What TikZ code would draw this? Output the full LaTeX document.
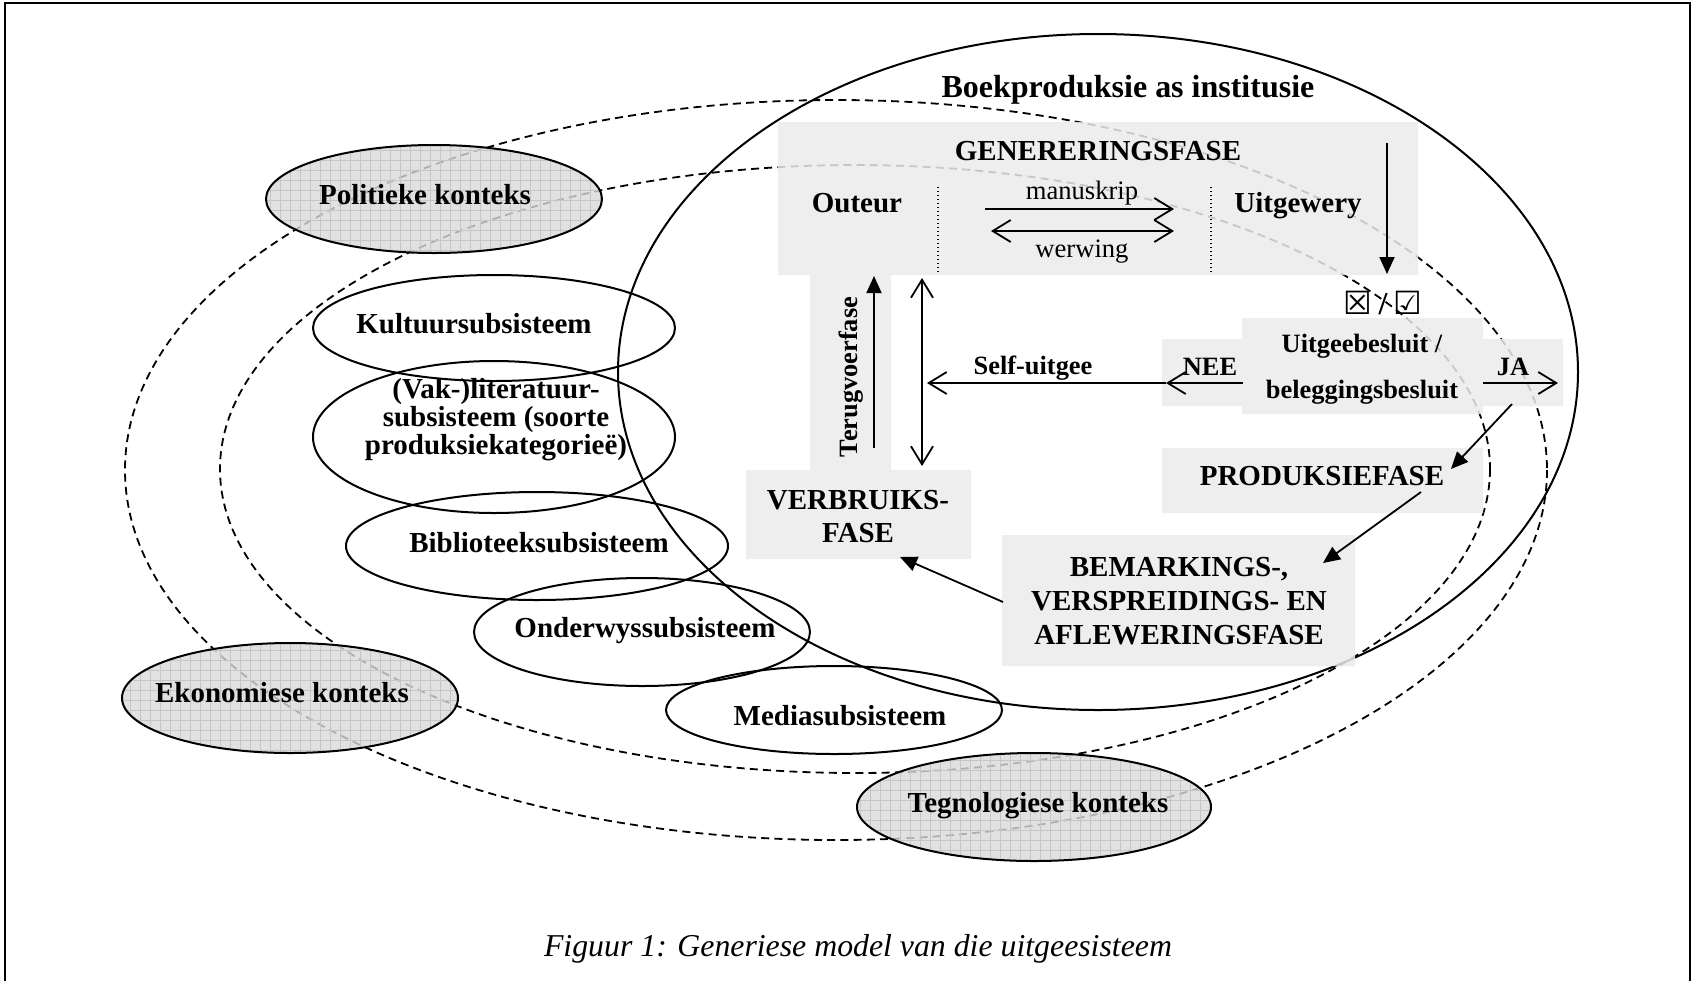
\documentclass[tikz,border=0pt]{standalone}
\usepackage{fontspec}
\setmainfont{Liberation Serif}
\newfontfamily\symfont{DejaVu Sans}
\usetikzlibrary{arrows.meta}
\definecolor{boxgrey}{HTML}{EBEBEB}
\definecolor{ctxgrey}{HTML}{DADADA}
\definecolor{gridgrey}{HTML}{C6C6C6}
\begin{document}
\begin{tikzpicture}[x=0.5pt,y=-0.5pt,
  boldbig/.style={font=\bfseries\fontsize{16pt}{18pt}\selectfont, inner sep=0pt},
  boldmid/.style={font=\bfseries\fontsize{14.5pt}{17pt}\selectfont, inner sep=0pt},
  boldsm/.style={font=\bfseries\fontsize{13.2pt}{15pt}\selectfont, inner sep=0pt},
  regsm/.style={font=\fontsize{13.3pt}{15pt}\selectfont, inner sep=0pt},
  dashedell/.style={draw, line width=0.9pt, dash pattern=on 4pt off 2.6pt},
  solidell/.style={draw, line width=1pt},
  openarr/.style={line width=0.9pt, -{Straight Barb[length=9pt,width=11pt]}},
  openarrs/.style={line width=0.9pt, {Straight Barb[length=9pt,width=11pt]}-{Straight Barb[length=9pt,width=11pt]}},
  fillarr/.style={line width=0.9pt, -{Triangle[length=8.5pt,width=7.5pt]}},
  dotline/.style={line width=0.7pt, dash pattern=on 0.7pt off 1.3pt},
]
\useasboundingbox (0,0) rectangle (1693,981);
% frame
\draw[line width=1pt] (5,981) -- (5,3) -- (1690,3) -- (1690,981);

% dashed context ellipses
\draw[dashedell] (836,470) ellipse [x radius=711, y radius=370];
\draw[dashedell] (855,469) ellipse [x radius=635, y radius=304];

% institution ellipse
\draw[solidell] (1098,372) ellipse [x radius=480, y radius=338];

% grey phase boxes
\fill[boxgrey, fill opacity=0.85]
  (778,122) rectangle (1418,275)
  (810,275) rectangle (891,470)
  (746,470) rectangle (971,559)
  (1162,339) rectangle (1242,406)
  (1242,318) rectangle (1483,414)
  (1483,339) rectangle (1563,406)
  (1162,448) rectangle (1483,513)
  (1002,535) rectangle (1355,666);

% context ellipses (grey, gridded)
\foreach \cx/\cy/\rx/\ry in {434/199/168/54, 290/698/168/55, 1034/807/177/54} {
  \begin{scope}
    \clip (\cx,\cy) ellipse [x radius=\rx, y radius=\ry];
    \fill[ctxgrey, fill opacity=0.8] (\cx-\rx,\cy+\ry) rectangle (\cx+\rx,\cy-\ry);
    \draw[gridgrey, line width=0.3pt] (\cx-\rx,\cy+\ry) grid[step=5pt] (\cx+\rx,\cy-\ry);
  \end{scope}
  \draw[solidell] (\cx,\cy) ellipse [x radius=\rx, y radius=\ry];
}

% subsystem ellipses
\draw[solidell] (494,328) ellipse [x radius=181, y radius=53];
\draw[solidell] (494,437) ellipse [x radius=181, y radius=76];
\draw[solidell] (537,546) ellipse [x radius=191, y radius=54];
\draw[solidell] (642,632) ellipse [x radius=168, y radius=54];
\draw[solidell] (834,710) ellipse [x radius=168, y radius=44];

% dotted separators
\draw[dotline] (938,187) -- (938,274);
\draw[dotline] (1211,187) -- (1211,274);

% texts
\node[boldbig, anchor=base] (boek) at (1128,97) {Boekproduksie as institusie};
\node[boldmid, anchor=base] (gen) at (1098,160) {GENERERINGSFASE};
\node[boldmid, anchor=base] (outeur) at (857,212) {Outeur};
\node[boldmid, anchor=base] (uitg) at (1298,212) {Uitgewery};
\node[regsm, anchor=base] (manu) at (1082,199) {manuskrip};
\node[regsm, anchor=base] (werw) at (1082,257) {werwing};
\node[boldsm, anchor=base, rotate=90] (terug) at (857,377) {Terugvoerfase};
\node[boldsm, anchor=base] (self) at (1033,374) {Self-uitgee};
\node[boldsm, anchor=base] (nee) at (1210,375) {NEE};
\node[boldsm, anchor=base] (besl1) at (1362,352) {Uitgeebesluit /};
\node[boldsm, anchor=base] (besl2) at (1362,398) {beleggingsbesluit};
\node[boldsm, anchor=base] (ja) at (1513,375) {JA};
\node[font=\fontsize{16pt}{16pt}\selectfont, inner sep=0pt] (check) at (1383,303) {{\symfont ☒}\kern3pt{\bfseries /}\kern3pt{\symfont ☑}};
\node[boldmid] (prod) at (1322,476) {PRODUKSIEFASE};
\node[font=\bfseries\fontsize{14.5pt}{16.5pt}\selectfont, inner sep=0pt, align=center] (verbr) at (858,517) {VERBRUIKS-\\FASE};
\node[font=\bfseries\fontsize{14.5pt}{17pt}\selectfont, inner sep=0pt, align=center] (bem) at (1179,601) {BEMARKINGS-,\\VERSPREIDINGS- EN\\AFLEWERINGSFASE};

\node[boldmid, anchor=base] (pol) at (425,204) {Politieke konteks};
\node[boldmid, anchor=base] (eko) at (282,702) {Ekonomiese konteks};
\node[boldmid, anchor=base] (teg) at (1038,812) {Tegnologiese konteks};

\node[boldmid, anchor=base] (kult) at (474,333) {Kultuursubsisteem};
\node[font=\bfseries\fontsize{14.5pt}{14pt}\selectfont, inner sep=0pt, align=center] (vak) at (496,420) {(Vak-)literatuur-\\subsisteem (soorte\\produksiekategorieë)};
\node[boldmid, anchor=base] (bib) at (539,552) {Biblioteeksubsisteem};
\node[boldmid, anchor=base] (ond) at (645,637) {Onderwyssubsisteem};
\node[boldmid, anchor=base] (med) at (840,725) {Mediasubsisteem};

\node[font=\itshape\fontsize{15.9pt}{18pt}\selectfont, anchor=base, inner sep=0pt] (cap) at (858,956) {Figuur 1: Generiese model van die uitgeesisteem};

% arrow end points
\coordinate (m1) at (985,209);  \coordinate (m2) at (1174,209);
\coordinate (w1) at (991,231);  \coordinate (w2) at (1174,231);
\coordinate (u1) at (1387,143); \coordinate (u2) at (1387,274);
\coordinate (t1) at (874,448);  \coordinate (t2) at (874,276);
\coordinate (v1) at (922,278);  \coordinate (v2) at (922,466);
\coordinate (n1) at (1243,383); \coordinate (n2) at (1166,383);
\coordinate (s2) at (927,383);
\coordinate (j1) at (1483,383); \coordinate (j2) at (1558,383);
\coordinate (p1) at (1512,404); \coordinate (p2) at (1451,469);
\coordinate (b1) at (1421,492); \coordinate (b2) at (1323,563);
\coordinate (c1) at (1003,602); \coordinate (c2) at (900,557);

\draw[openarr] (m1) -- (m2);
\draw[openarrs] (w1) -- (w2);
\draw[fillarr] (u1) -- (u2);
\draw[fillarr] (t1) -- (t2);
\draw[openarrs] (v1) -- (v2);
\draw[openarr] (n1) -- (n2);
\draw[openarr] (n2) -- (s2);
\draw[openarr] (j1) -- (j2);
\draw[fillarr] (p1) -- (p2);
\draw[fillarr] (b1) -- (b2);
\draw[fillarr] (c1) -- (c2);
\end{tikzpicture}
\end{document}
